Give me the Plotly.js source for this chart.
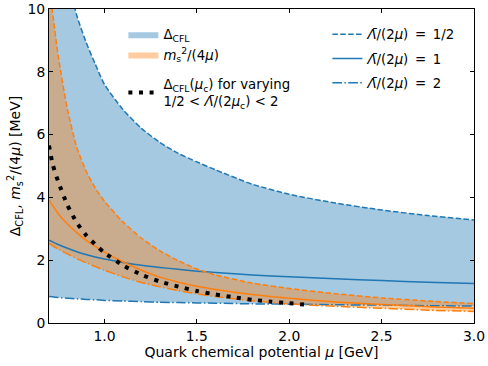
<!DOCTYPE html>
<html>
<head>
<meta charset="utf-8">
<script src="https://cdn.plot.ly/plotly-3.0.1.min.js"></script>
<style>
  html, body { margin: 0; padding: 0; background: #fff; }
  #chart { width: 488px; height: 366px; }
</style>
</head>
<body>
<div id="chart"></div>
<script>
// quark chemical potential grid [GeV]
const mu = [0.7, 0.75, 0.8, 0.85, 0.9, 0.95, 1.0, 1.1, 1.2, 1.3, 1.4, 1.5, 1.6, 1.8, 2.0, 2.25, 2.5, 2.75, 3.0];

// Delta_CFL [MeV] for Lambda/(2mu) = 1/2, 1, 2
const gapHalf = [13.8, 12.4, 11.0, 9.8, 8.95, 8.25, 7.6, 6.8, 6.2, 5.75, 5.4, 5.13, 4.88, 4.42, 4.1, 3.82, 3.6, 3.42, 3.28];
const gapOne  = [2.64, 2.5, 2.38, 2.27, 2.18, 2.1, 2.04, 1.93, 1.84, 1.77, 1.71, 1.65, 1.61, 1.53, 1.47, 1.41, 1.35, 1.3, 1.26];
const gapTwo  = [0.84, 0.81, 0.79, 0.77, 0.75, 0.74, 0.72, 0.7, 0.68, 0.66, 0.65, 0.64, 0.63, 0.61, 0.6, 0.58, 0.57, 0.55, 0.54];

// m_s^2/(4mu) [MeV] for the same three scales
const msHalf = [10.8, 8.5, 6.8, 5.6, 4.85, 4.3, 3.88, 3.22, 2.7, 2.3, 1.98, 1.72, 1.53, 1.27, 1.1, 0.93, 0.8, 0.7, 0.62];
const msOne  = [3.92, 3.48, 3.15, 2.88, 2.64, 2.44, 2.26, 1.95, 1.68, 1.46, 1.3, 1.17, 1.07, 0.91, 0.79, 0.67, 0.59, 0.52, 0.47];
const msTwo  = [2.54, 2.35, 2.2, 2.05, 1.92, 1.8, 1.68, 1.47, 1.29, 1.15, 1.03, 0.93, 0.84, 0.71, 0.61, 0.53, 0.47, 0.41, 0.37];

// Delta_CFL at mu_c
const muCrit  = [0.7, 0.72, 0.75, 0.8, 0.85, 0.9, 0.95, 1.0, 1.1, 1.2, 1.3, 1.4, 1.5, 1.6, 1.7, 1.8, 1.9, 2.0, 2.1];
const gapCrit = [5.65, 5.05, 4.5, 3.75, 3.2, 2.8, 2.5, 2.24, 1.84, 1.54, 1.32, 1.16, 1.02, 0.91, 0.82, 0.74, 0.68, 0.63, 0.58];

const BLUE = '#1f77b4';
const ORANGE = '#ff7f0e';
const DASH = '5.5px,2.4px';
const DASHDOT = '9.6px,2.4px,1.5px,2.4px';
const lam = '<i>Λ\u0304</i>';
const eq = '\u2002=\u2002';

function curve(y, color, dash, extra) {
    return Object.assign({
        x: mu, y: y, type: 'scatter', mode: 'lines',
        line: { color: color, width: 1.5, dash: dash, shape: 'spline', smoothing: 0.6 },
        showlegend: false, hoverinfo: 'skip'
    }, extra || {});
}

function bandEdge(y, fill, fillcolor, extra) {
    return Object.assign({
        x: mu, y: y, type: 'scatter', mode: 'lines',
        line: { width: 0, shape: 'spline', smoothing: 0.6 },
        fill: fill, fillcolor: fillcolor,
        showlegend: false, hoverinfo: 'skip'
    }, extra || {});
}

const data = [
    bandEdge(gapTwo, 'none', 'rgba(0,0,0,0)'),
    bandEdge(gapHalf, 'tonexty', 'rgba(31,119,180,0.4)',
        { name: 'Δ<sub>CFL</sub>', showlegend: true, legend: 'legend', legendrank: 1 }),
    bandEdge(msTwo, 'none', 'rgba(0,0,0,0)'),
    bandEdge(msHalf, 'tonexty', 'rgba(255,127,14,0.4)',
        { name: '<i>m</i><sub>s</sub><sup>2</sup>/(4<i>μ</i>)', showlegend: true, legend: 'legend', legendrank: 2 }),

    curve(gapHalf, BLUE, DASH, { name: lam + '/(2<i>μ</i>)' + eq + '1/2', showlegend: true, legend: 'legend2', legendgroup: 'a', legendrank: 1 }),
    curve(gapOne, BLUE, 'solid', { name: lam + '/(2<i>μ</i>)' + eq + '1', showlegend: true, legend: 'legend2', legendgroup: 'b', legendrank: 2 }),
    curve(gapTwo, BLUE, DASHDOT, { name: lam + '/(2<i>μ</i>)' + eq + '2', showlegend: true, legend: 'legend2', legendgroup: 'c', legendrank: 3 }),

    curve(msHalf, ORANGE, DASH),
    curve(msOne, ORANGE, 'solid'),
    curve(msTwo, ORANGE, DASHDOT),

    {
        x: muCrit, y: gapCrit, type: 'scatter', mode: 'lines',
        line: { color: '#000000', width: 4, dash: '4px,6.6px', shape: 'spline', smoothing: 0.6 },
        name: 'Δ<sub>CFL</sub>(<i>μ</i><sub>c</sub>) for varying<br>1/2 &lt; ' + lam + '/(2<i>μ</i><sub>c</sub>) &lt; 2',
        legend: 'legend3', hoverinfo: 'skip'
    }
];

const axisCommon = {
    showgrid: false, zeroline: false,
    showline: true, linecolor: '#000', linewidth: 1, mirror: 'ticks',
    ticks: 'inside', ticklen: 4, tickwidth: 1, tickcolor: '#000',
    tickfont: { size: 13.9, color: '#000' }
};

const legendCommon = {
    xanchor: 'left', yanchor: 'top',
    bgcolor: 'rgba(0,0,0,0)', borderwidth: 0,
    font: { size: 13.3 }, traceorder: 'normal'
};

const layout = {
    width: 488, height: 366,
    margin: { l: 49, r: 14, t: 9, b: 43 },
    paper_bgcolor: '#fff', plot_bgcolor: '#fff',
    font: { family: 'DejaVu Sans', color: '#000' },
    xaxis: Object.assign({}, axisCommon, {
        range: [0.7, 3.0], tickvals: [1.0, 1.5, 2.0, 2.5, 3.0], tickformat: '.1f',
        title: { text: 'Quark chemical potential <i>μ</i> [GeV]', font: { size: 14 }, standoff: 0 }
    }),
    yaxis: Object.assign({}, axisCommon, {
        range: [0, 10], tickvals: [0, 2, 4, 6, 8, 10],
        title: { text: 'Δ<sub>CFL</sub>, <i>m</i><sub>s</sub><sup>2</sup>/(4<i>μ</i>) [MeV]', font: { size: 14 }, standoff: 3 }
    }),
    legend: Object.assign({}, legendCommon, { x: 0.175, y: 0.968, tracegroupgap: 0 }),
    legend2: Object.assign({}, legendCommon, { x: 0.655, y: 0.968, traceorder: 'grouped', tracegroupgap: 4 }),
    legend3: Object.assign({}, legendCommon, { x: 0.175, y: 0.81 })
};

Plotly.newPlot('chart', data, layout, { displayModeBar: false, staticPlot: true });
</script>
</body>
</html>
